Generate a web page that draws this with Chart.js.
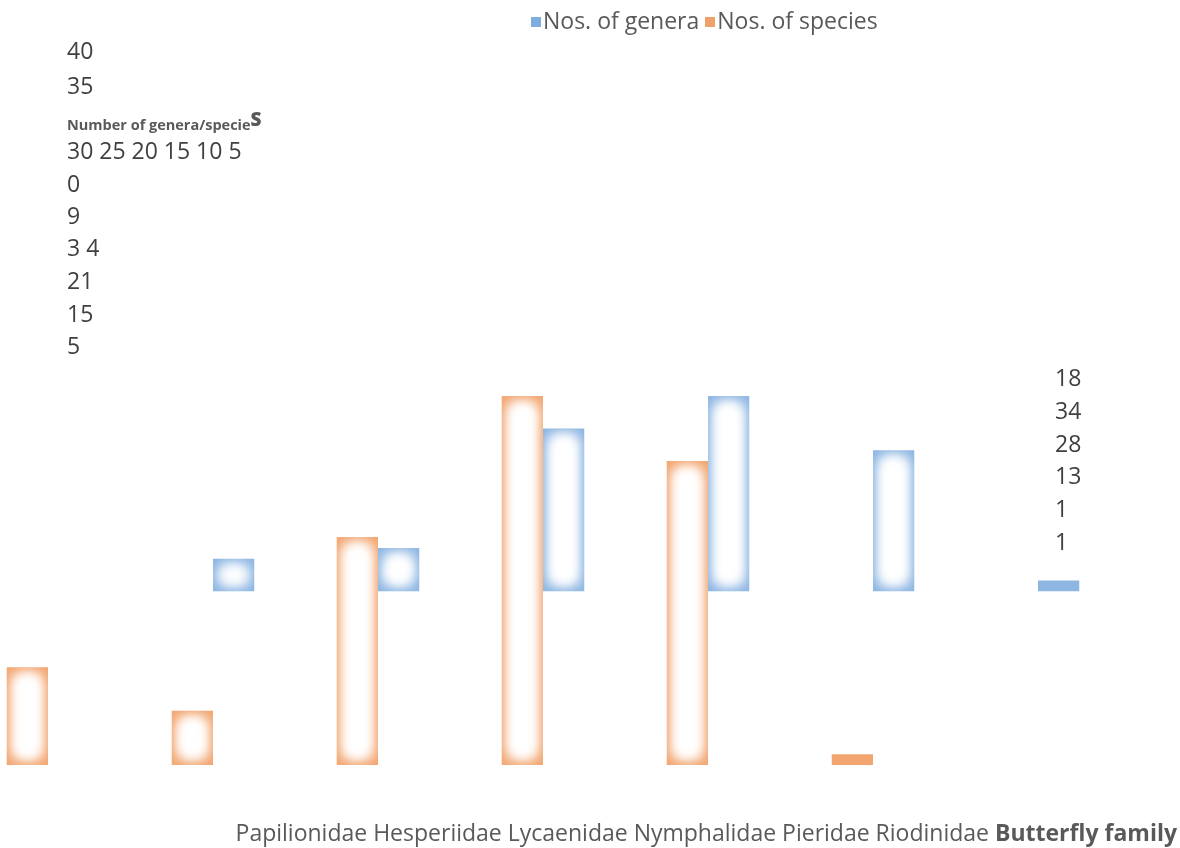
<!DOCTYPE html>
<html>
<head>
<meta charset="utf-8">
<title>Butterfly family</title>
<script src="https://cdn.jsdelivr.net/npm/chart.js@4/dist/chart.umd.min.js"></script>
<style>
    html, body { margin:0; padding:0; background:#fff; }
    body { width:1180px; height:848px; position:relative; overflow:hidden; font-family:"Open Sans", "Noto Sans", sans-serif; color:#404040; }
    #chartBox { position:absolute; left:0; top:0; width:1180px; height:848px; }
    .t { position:absolute; font-size:23px; line-height:28px; white-space:nowrap; }
    .legend { position:absolute; left:531px; top:6px; font-size:23px; line-height:28px; color:#595959; white-space:nowrap; }
    .legend i { display:inline-block; width:10px; height:10px; margin-right:2px; vertical-align:2px; }
    .ylab { position:absolute; left:67px; top:110px; font-size:14.5px; font-weight:bold; color:#595959; white-space:nowrap; }
    .ylab b { font-size:19px; position:relative; top:-4px; }
    .xlab { position:absolute; right:3px; top:818px; font-size:23px; line-height:28px; color:#595959; white-space:nowrap; }
</style>
</head>
<body>
<div id="chartBox"><canvas id="famChart" width="1180" height="848"></canvas></div>

<div class="legend" id="legendBox"></div>
<div class="ylab">Number of genera/specie<b>S</b></div>
<div id="leftText"></div>
<div id="rightText"></div>
<div class="xlab" id="xLabel"></div>

<script>
'use strict';

// data
var families = ['Papilionidae', 'Hesperiidae', 'Lycaenidae', 'Nymphalidae', 'Pieridae', 'Riodinidae'];
var genera   = [3, 4, 15, 18, 13, 1];
var species  = [9, 5, 21, 34, 28, 1];

// stray tick / label text as it sits in the picture
var leftLines  = ['40', '35', '30 25 20 15 10 5', '0', '9', '3 4', '21', '15', '5'];
var leftTops   = [36, 71, 136, 169, 201, 233, 266, 299, 331];
var rightLines = ['18', '34', '28', '13', '1', '1'];
var xTitle     = 'Butterfly family';

var C_GEN = '#8DB6E3', C_SPE = '#F3A56F';

function $(id) { return document.getElementById(id); }

// soft white core inside each bar (the "glow" fill of the original)
// only the blurred shadow of the core is painted, the core itself sits off-canvas
var glowPlugin = {
    id: 'barGlow',
    afterDatasetsDraw: function(chart) {
        var ctx = chart.ctx;
        chart.data.datasets.forEach(function(ds, di) {
            var meta = chart.getDatasetMeta(di);
            meta.data.forEach(function(el) {
                if (el.skip || el.y == null || isNaN(el.y)) return;
                var p = el.getProps(['x', 'y', 'base', 'width'], true);
                var l = p.x - p.width / 2, top = Math.min(p.y, p.base), h = Math.abs(p.base - p.y), w = p.width;
                var ins = 9, off = 5000;
                if (h < 20) return;
                var cw = Math.max(w - 2 * ins, 2), ch = Math.max(h - 2 * ins, 2);
                ctx.save();
                ctx.beginPath();
                ctx.rect(l, top, w, h);
                ctx.clip();
                ctx.fillStyle = '#fff';
                ctx.shadowColor = '#fff';
                ctx.shadowBlur = 14;
                ctx.shadowOffsetX = off;
                for (var k = 0; k < 3; k++) {
                    ctx.fillRect(l + w / 2 - cw / 2 - off, top + h / 2 - ch / 2, cw, ch);
                }
                ctx.restore();
            });
        });
    }
};

function buildText() {
    var h = '';
    leftLines.forEach(function(s, i) {
        h += '<div class="t" style="left:67px;top:' + leftTops[i] + 'px;">' + s + '</div>';
    });
    $('leftText').innerHTML = h;
    h = '';
    rightLines.forEach(function(s, i) {
        h += '<div class="t" style="left:1055px;top:' + (363 + i * 32.8) + 'px;">' + s + '</div>';
    });
    $('rightText').innerHTML = h;
    $('xLabel').innerHTML = families.join(' ') + ' <b>' + xTitle + '</b>';
    $('legendBox').innerHTML = '<i style="background:#7EAEE0"></i>Nos. of genera <i style="background:#F0A06A"></i>Nos. of species';
}

function drawChart() {
    // genera ended up one slot to the right of species in the original
    var labels = families.concat(['']);
    var speData = species.concat([null]);
    var genData = [null].concat(genera);

    new Chart($('famChart').getContext('2d'), {
        type: 'bar',
        data: {
            labels: labels,
            datasets: [
                { label: 'Nos. of species', data: speData, backgroundColor: C_SPE, yAxisID: 'y',  clip: false },
                { label: 'Nos. of genera',  data: genData, backgroundColor: C_GEN, yAxisID: 'y2', clip: false }
            ]
        },
        options: {
            responsive: false,
            animation: false,
            categoryPercentage: 0.5,
            barPercentage: 1.0,
            layout: { padding: { left: 48, right: 142, top: 396, bottom: 83 } },
            plugins: {
                legend: { display: false },
                tooltip: { enabled: false }
            },
            scales: {
                x:  { offset: false, display: false, grid: { display: false } },
                y:  { display: false, min: 0, max: 34 },
                y2: { display: false, min: -16, max: 18 }
            }
        },
        plugins: [glowPlugin]
    });
}

buildText();
drawChart();
</script>
</body>
</html>
